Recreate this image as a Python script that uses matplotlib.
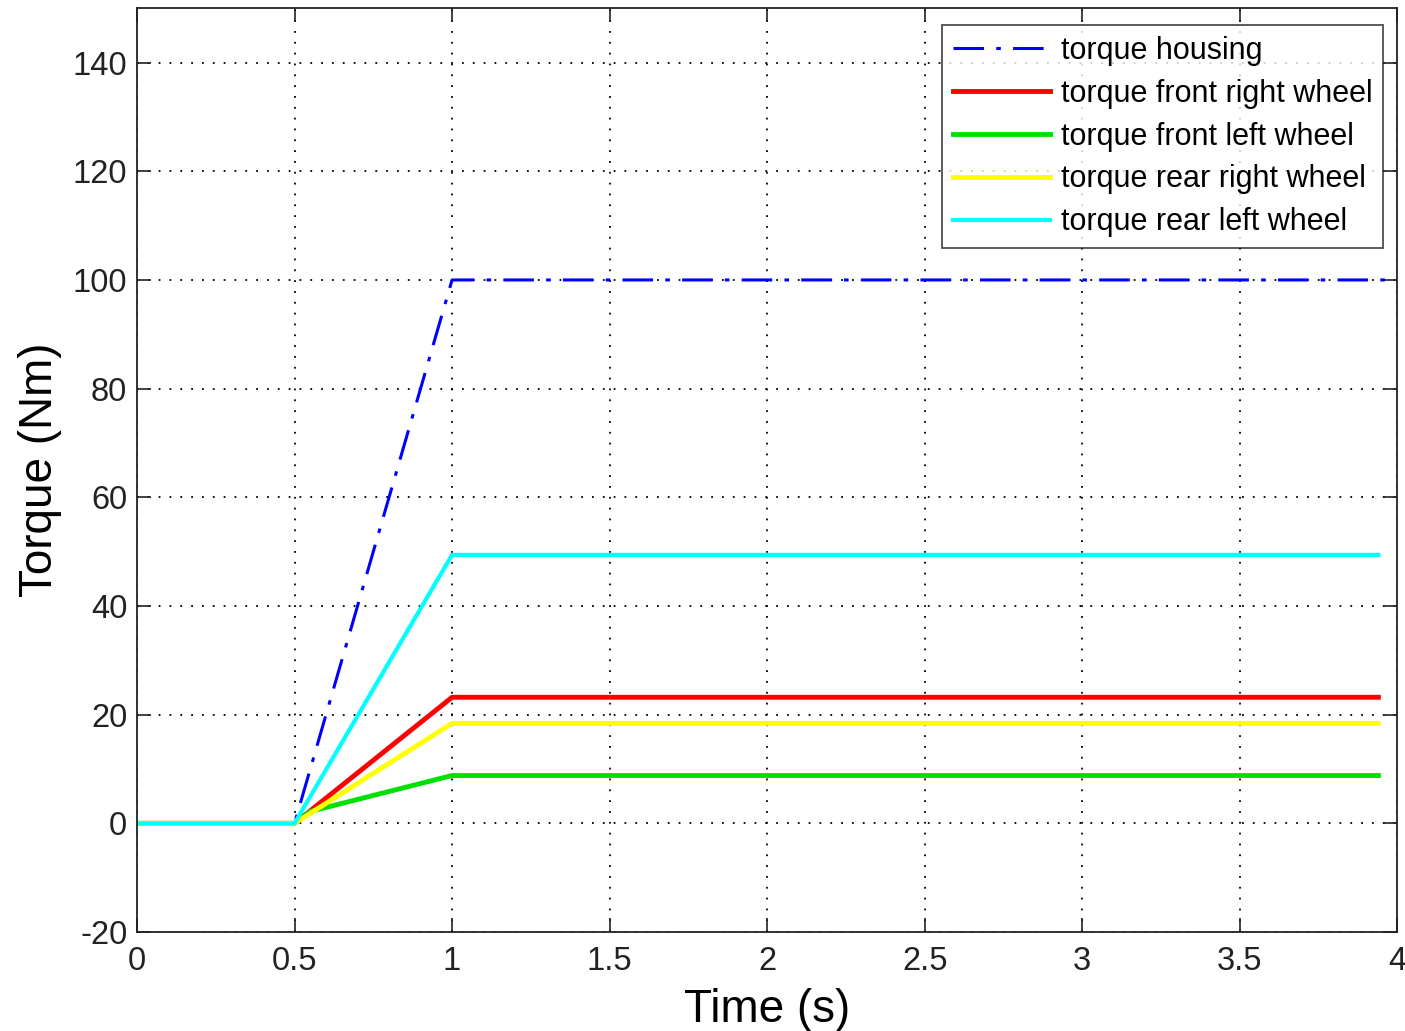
"""
Wheel torque response — housing vs. individual wheels.
"""
import matplotlib
matplotlib.use("Agg")
import matplotlib.pyplot as plt

plt.rcParams["font.family"] = ["Liberation Sans", "DejaVu Sans"]
plt.rcParams["axes.unicode_minus"] = False

# time breakpoints (s) and torque values (Nm)
t_housing = [0.0, 0.5, 1.0, 4.0]
housing = [0.0, 0.0, 100.0, 100.0]

t_wheel = [0.0, 0.5, 1.0, 3.94]
front_right = [0.0, 0.0, 23.2, 23.2]
rear_right = [0.0, 0.0, 18.4, 18.4]
rear_left = [0.0, 0.0, 49.4, 49.4]

t_front_left = [0.0, 0.5, 0.55, 1.0, 3.94]
front_left = [0.0, 0.0, 2.2, 8.8, 8.8]

fig = plt.figure(figsize=(14.05, 10.31), dpi=100)
ax = fig.add_axes([0.0975, 0.096, 0.897, 0.896])

ax.plot(t_housing, housing, color="#0000FF", lw=2.2, dashes=(10, 4, 1.5, 4),
        label="torque housing")
ax.plot(t_wheel, front_right, color="#FF0000", lw=3.5, label="torque front right wheel")
ax.plot(t_front_left, front_left, color="#00E000", lw=3.5, label="torque front left wheel")
ax.plot(t_wheel, rear_right, color="#FFFF00", lw=3.5, label="torque rear right wheel")
ax.plot(t_wheel, rear_left, color="#00FFFF", lw=3.0, label="torque rear left wheel")

ax.set_xlim(0, 4)
ax.set_ylim(-20, 150)
ax.set_xticks([0, 0.5, 1, 1.5, 2, 2.5, 3, 3.5, 4])
ax.set_xticklabels(["0", "0.5", "1", "1.5", "2", "2.5", "3", "3.5", "4"])
ax.set_yticks(range(-20, 141, 20))
ax.tick_params(direction="in", length=10, width=1.2, labelsize=23.5, top=True, right=True,
               colors="#222222")
ax.tick_params(axis="x", pad=10)
ax.tick_params(axis="y", pad=7)
ax.grid(True, linestyle=(0, (1, 5)), color="black", lw=1.3)
for sp in ax.spines.values():
    sp.set_linewidth(1.3)
    sp.set_color("#222222")

ax.set_xlabel("Time (s)", fontsize=33, labelpad=8)
ax.set_ylabel("Torque (Nm)", fontsize=33, labelpad=8)

leg = ax.legend(loc="upper right", fontsize=22, frameon=True, fancybox=False,
                edgecolor="#222222", handlelength=3.2, handletextpad=0.35,
                labelspacing=0.42, borderpad=0.35, borderaxespad=0,
                bbox_to_anchor=(0.989, 0.9816))
leg.get_frame().set_linewidth(1.3)

fig.savefig("out.png", dpi=100, facecolor="white")
